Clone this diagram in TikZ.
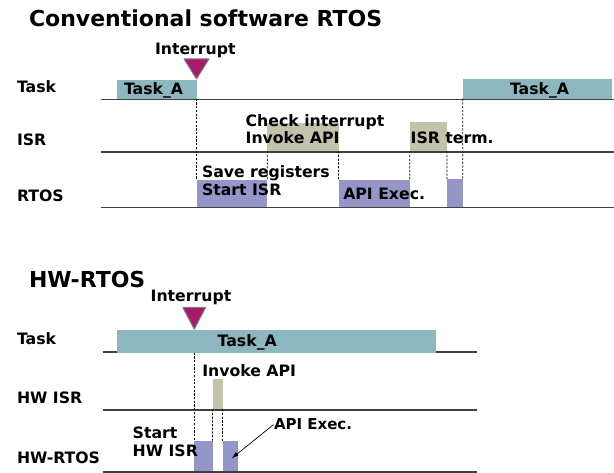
\documentclass[tikz,border=0pt]{standalone}
\usepackage{fontspec}
\setmainfont{DejaVu Sans}
\usetikzlibrary{arrows.meta}
\definecolor{taskfill}{RGB}{141,183,190}
\definecolor{isrfill}{RGB}{195,195,171}
\definecolor{rtosfill}{RGB}{149,149,200}
\definecolor{irqfill}{RGB}{166,28,106}
\definecolor{irqedge}{RGB}{128,128,128}
\definecolor{axisgray}{RGB}{64,64,64}
\begin{document}
\begin{tikzpicture}[x=1pt,y=-1pt,
  lbl/.style={inner sep=0pt, outer sep=0pt, anchor=base west,
    font=\bfseries\fontsize{15.7}{18}\selectfont},
  ttl/.style={inner sep=0pt, outer sep=0pt, anchor=base west,
    font=\bfseries\fontsize{22}{26}\selectfont},
  axis/.style={draw=axisgray, line width=1.6pt},
  bar/.style={inner sep=0pt, outer sep=0pt, anchor=north west, draw=none},
  taskbar/.style={bar, fill=taskfill},
  isrbar/.style={bar, fill=isrfill},
  rtosbar/.style={bar, fill=rtosfill},
  dashline/.style={draw=black, line width=0.8pt, dash pattern=on 2.2pt off 1.5pt},
  irq/.style={fill=irqfill, draw=irqedge, line width=1pt, line join=bevel},
  pointer/.style={draw=black, line width=0.7pt, -{Latex[length=7pt,width=4.5pt]}}
]
\useasboundingbox (0,0) rectangle (614,473);

% ---------------- Conventional software RTOS ----------------
\node[ttl] (title1) at (29,26.7) {Conventional software RTOS};

% time lines
\draw[axis] (101,99.5) -- (614,99.5);
\draw[axis] (101,152) -- (614,152);
\draw[axis] (101,207.7) -- (614,207.7);

% row labels
\node[lbl] (rowtask1) at (17,93) {Task};
\node[lbl] (rowisr1) at (17,146) {ISR};
\node[lbl] (rowrtos1) at (17,201.7) {RTOS};

% activity bars
\node[taskbar, minimum width=80pt, minimum height=18.75pt] (ta1) at (116.5,80) {};
\node[taskbar, minimum width=149.3pt, minimum height=19.45pt] (ta2) at (462.7,79.3) {};
\node[isrbar, minimum width=71.2pt, minimum height=28.3pt] (isr1) at (267.3,123) {};
\node[isrbar, minimum width=37.3pt, minimum height=29pt] (isr2) at (409.7,122.3) {};
\node[rtosbar, minimum width=70.8pt, minimum height=27pt] (rt1) at (196.5,180) {};
\node[rtosbar, minimum width=71.2pt, minimum height=27pt] (rt2) at (338.5,180) {};
\node[rtosbar, minimum width=15.7pt, minimum height=28pt] (rt3) at (447,179) {};

% hand-over links
\draw[dashline] (ta1.south east) -- (rt1.north west);
\draw[dashline] (isr1.south west) -- (rt1.north east);
\draw[dashline] (isr1.south east) -- (rt2.north west);
\draw[dashline] (isr2.south west) -- (rt2.north east);
\draw[dashline] (isr2.south east) -- (rt3.north west);
\draw[dashline] (ta2.south west) -- (rt3.north east);

% interrupt marker
\node[lbl] (irqtext1) at (155,55) {Interrupt};
\filldraw[irq] (184,59) -- (209,59) -- (196.5,79) -- cycle;
\coordinate (irq1) at (196.5,79);

% bar texts
\node[lbl] (ta1text) at (124,95) {Task\_A};
\node[lbl] (ta2text) at (510,95) {Task\_A};
\node[lbl] (chk) at (245.7,126.7) {Check interrupt};
\node[lbl] (inv1) at (245.7,144) {Invoke API};
\node[lbl] (term) at (410.7,144) {ISR term.};
\node[lbl] (save) at (202,177.5) {Save registers};
\node[lbl] (start1) at (202,195.5) {Start ISR};
\node[lbl] (exec1) at (343.3,200) {API Exec.};

% ---------------- HW-RTOS ----------------
\node[ttl] (title2) at (29,287.3) {HW-RTOS};

% time lines
\draw[axis] (102.7,352) -- (476.7,352);
\draw[axis] (102.7,410) -- (476.7,410);
\draw[axis] (102.7,471.7) -- (476.7,471.7);

% row labels
\node[lbl] (rowtask2) at (17,345) {Task};
\node[lbl] (rowisr2) at (17,404) {HW ISR};
\node[lbl] (rowrtos2) at (17,464) {HW-RTOS};

% activity bars
\node[taskbar, minimum width=319.3pt, minimum height=22.7pt] (tb) at (116.7,330) {};
\node[isrbar, minimum width=10pt, minimum height=30pt] (hisr) at (212.5,379.3) {};
\node[rtosbar, minimum width=18.2pt, minimum height=30.3pt] (hr1) at (194.3,440.7) {};
\node[rtosbar, minimum width=15.2pt, minimum height=30.3pt] (hr2) at (222.5,440.7) {};

% hand-over links
\draw[dashline] (hr1.north west |- tb.south) -- (hr1.north west);
\draw[dashline] (hisr.south west) -- (hr1.north east);
\draw[dashline] (hisr.south east) -- (hr2.north west);

% interrupt marker
\node[lbl] (irqtext2) at (150.7,301.7) {Interrupt};
\filldraw[irq] (182.7,307.3) -- (205.7,307.3) -- (194.3,329.3) -- cycle;
\coordinate (irq2) at (194.3,329.3);

% bar texts
\node[lbl] (tbtext) at (217.7,346.7) {Task\_A};
\node[lbl] (inv2) at (202.3,376.7) {Invoke API};
\node[lbl] (start2a) at (132.7,438.3) {Start};
\node[lbl] (start2b) at (132.7,456.7) {HW ISR};
\node[lbl, font=\bfseries\fontsize{15}{18}\selectfont] (exec2) at (274,430) {API Exec.};

% pointer to the API execution bar
\coordinate (execpt) at (231.7,458.3);
\draw[pointer] ([xshift=-0.5pt]exec2.west) -- (execpt);
\end{tikzpicture}
\end{document}
